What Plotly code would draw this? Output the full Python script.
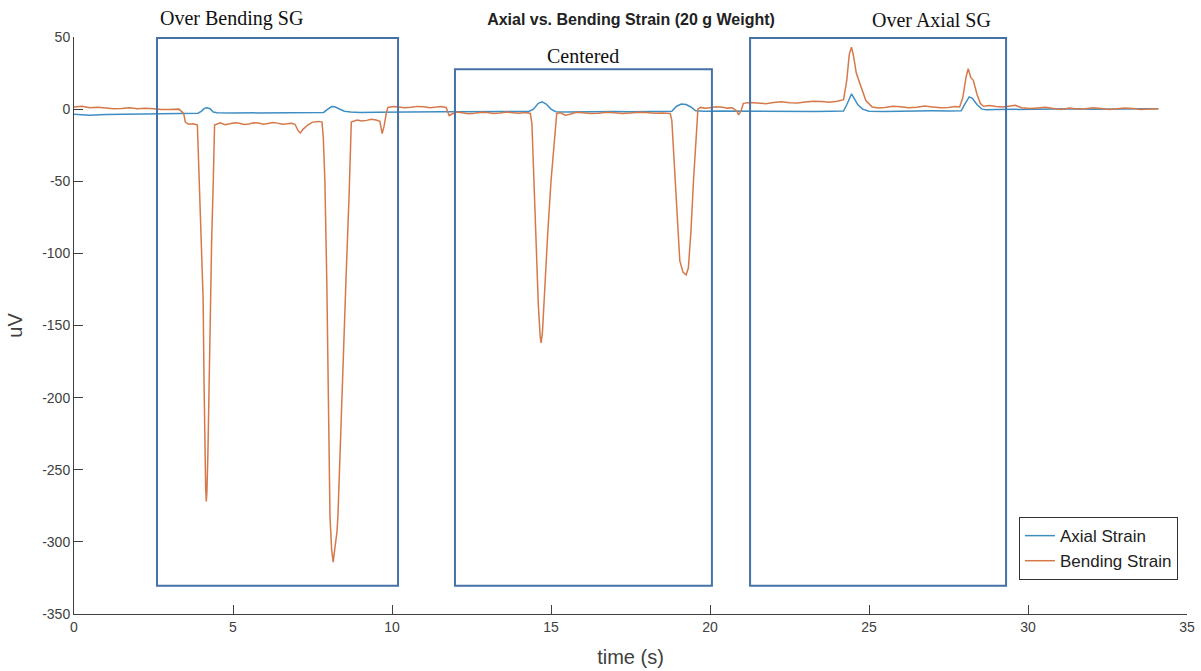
import plotly.graph_objects as go

# Bending strain (orange) — time (s) and value (uV)
bend_t = [0.0, 0.25, 0.5, 0.75, 1.0, 1.25, 1.5, 1.75, 2.0, 2.25, 2.5, 2.75, 3.0, 3.3, 3.45, 3.5, 3.6, 3.75, 3.88, 3.91, 3.95, 4.01, 4.06,
          4.09, 4.12, 4.14, 4.16, 4.18, 4.21, 4.25, 4.28, 4.33, 4.38, 4.40, 4.42, 4.6, 4.75, 4.9, 5.05, 5.2, 5.35, 5.5, 5.65, 5.8,
          5.95, 6.1, 6.25, 6.4, 6.55, 6.7, 6.85, 6.95, 7.05, 7.12, 7.2, 7.35, 7.5, 7.7, 7.8, 7.84, 7.89, 7.95, 7.99, 8.05, 8.1,
          8.15, 8.2, 8.27, 8.30, 8.36, 8.43, 8.55, 8.65, 8.68, 8.72, 8.9, 9.05, 9.2, 9.35, 9.5, 9.62, 9.69, 9.75, 9.82,
          9.87, 10.05, 10.2, 10.4, 10.6, 10.8, 11.0, 11.2, 11.4, 11.55, 11.7, 11.76, 11.8, 11.9, 12.05, 12.2, 12.4, 12.6, 12.8, 13.0,
          13.2, 13.4, 13.6, 13.8, 14.0, 14.2, 14.35,
          14.4, 14.45, 14.52, 14.6, 14.66, 14.69, 14.73, 14.8, 14.9, 15.0, 15.1, 15.18, 15.3, 15.45, 15.6, 15.8, 16.0,
          16.25, 16.5, 16.75, 17.0, 17.25, 17.5, 17.75, 18.0, 18.25, 18.5, 18.75, 18.8, 18.88, 18.97, 19.05, 19.15, 19.25, 19.32, 19.4, 19.48,
          19.55, 19.62, 19.7, 19.85, 20.0, 20.2, 20.4, 20.55, 20.7, 20.85, 20.9, 20.98, 21.05, 21.25, 21.5, 21.75, 22.0, 22.25, 22.5, 22.75, 23.0,
          23.25, 23.5, 23.75,
          24.0, 24.2, 24.3, 24.38, 24.45, 24.52, 24.6, 24.75, 24.9, 25.1, 25.3, 25.5, 25.75, 26.0, 26.25, 26.5, 26.75, 27.0, 27.25, 27.5,
          27.7, 27.85, 27.95, 28.05, 28.12, 28.2, 28.28, 28.4, 28.5, 28.6, 28.8, 29.0, 29.2, 29.4, 29.6, 29.8, 30.05, 30.3, 30.55, 30.8, 31.05, 31.3,
          31.55, 31.8, 32.05, 32.3, 32.55, 32.8, 33.05, 33.3, 33.55, 33.8, 34.1]
bend_v = [1.5, 2.0, 1.0, 1.3, 0.8, 0.3, 0.5, 0.9, 0.3, 0.6, 0.2, -0.3, -0.2, 0.0, -3, -9, -10.5, -10.2, -11, -30, -50, -90, -131,
          -190, -245, -262, -272, -265, -240, -190, -131, -90, -50, -25, -11, -9.5, -10.8, -10.2, -9.4, -9.8, -10.6, -10.3, -9.5, -9.6,
          -10.4, -10, -9.3, -9.7, -10.5, -10.2, -9.8, -10.5, -15, -16.5, -14, -11, -9, -8.5, -9, -20, -50, -120, -189, -282, -305,
          -314, -305, -293, -282, -240, -189, -120, -60, -30, -9, -7.5, -8.3, -7.8, -7.1, -7.5, -8.5, -17, -12, -3,
          1.2, 1.8, 1.5, 0.9, 1.3, 1.9, 1.6, 1.0, 1.4, 1.8, 1.2, -2, -4.5, -3.2, -2.0, -2.5, -3.2, -2.8, -2.1, -2.4,
          -3.0, -2.6, -2.0, -2.5, -2.9, -2.3, -3,
          -10, -40, -90, -135, -158, -162, -155, -125, -85, -50, -20, -3, -2.5, -4.2, -3.5, -2.2, -2.5,
          -3.1, -2.8, -2.2, -2.5, -3.0, -2.6, -2.1, -2.4, -2.9, -2.6, -3, -8, -40, -80, -105, -113, -115, -110, -85, -50,
          -20, 0, 1.2, 0.6, 1.0, 1.6, 1.3, 0.7, 1.0, -1.5, -4, -1, 4, 4.6, 4.3, 3.8, 4.6, 5.1, 4.5, 4.2, 5.0,
          5.4, 5.2, 4.8,
          5.5, 6.5, 20, 38, 43, 36, 25, 15, 6, 1.5, 0.8, 1.2, 2.0, 1.6, 1.0, 1.3, 2.1, 1.5, 0.9, 1.2,
          1.8, 1.5, 8, 22, 28, 22, 20, 10, 4, 2, 2.5, 1.8, 1.4, 2.0, 2.6, 1.0, 0.4, 0.8, 1.3, 0.5, -0.2, 0.7,
          0.1, 0.3, 0.9, 0.5, -0.3, 0.2, 0.8, 0.4, -0.2, 0.1, 0.3]

# Axial strain (blue)
axial_t = [0.0, 0.5, 1.0, 1.5, 2.0, 2.5, 3.0, 3.5, 3.9, 4.0, 4.1, 4.18, 4.28, 4.38, 4.5, 5.0, 5.5, 6.0,
           6.5, 7.0, 7.5, 7.85, 7.95, 8.1, 8.2, 8.35, 8.5, 8.7, 9.0, 9.5, 10.0, 10.5, 11.0, 11.5, 12.0,
           12.5, 13.0, 13.5, 14.0, 14.3, 14.45, 14.6, 14.72, 14.85, 15.0, 15.15, 15.5, 16.0, 16.5, 17.0,
           17.5, 18.0, 18.5, 18.8, 18.95, 19.1, 19.25, 19.4, 19.55, 19.8, 20.3, 20.8, 21.3, 21.8, 22.3,
           22.8, 23.3, 23.8, 24.2, 24.3, 24.4, 24.45, 24.52, 24.65, 24.8, 25.0, 25.5, 26.0, 26.5, 27.0,
           27.5, 27.9, 28.0, 28.15, 28.25, 28.4, 28.55, 28.7, 29.0, 29.5, 30.0, 30.5, 31.0, 31.5, 32.0,
           32.5, 33.0, 33.5, 34.1]
axial_v = [-3.5, -4.2, -3.8, -3.6, -3.4, -3.2, -3.0, -2.9, -2.8, -1.5, 0.5, 1.0, 0.3, -2.0, -2.5, -2.7, -2.6, -2.8,
           -2.6, -2.5, -2.4, -2.3, -0.5, 1.8, 1.6, 0.0, -1.5, -2.0, -2.3, -2.2, -2.0, -2.2, -2.0, -1.8, -1.9,
           -1.7, -1.8, -1.6, -1.7, -1.6, 0.0, 4.0, 5.0, 3.5, 0.0, -1.8, -2.0, -1.8, -1.9, -1.7,
           -1.8, -1.7, -1.8, -1.5, 2.0, 3.5, 3.2, 1.5, -1.2, -1.5, -1.3, -1.4, -1.2, -1.5, -1.3,
           -1.4, -1.6, -1.4, -1.3, 3.0, 9.0, 10.5, 8.0, 3.0, 0.0, -1.5, -1.6, -1.3, -1.5, -1.2,
           -1.3, -1.2, 3.0, 8.5, 7.5, 3.0, 0.0, -0.5, -0.3, -0.2, 0.0, 0.3, 0.1, 0.2, 0.0,
           0.3, 0.1, 0.2, 0.2]

# Annotation boxes
box_x0 = [2.61, 11.98, 21.26]
box_x1 = [10.19, 20.06, 29.31]
box_ytop = [49.3, 27.7, 49.3]
box_ybot = [-330.5, -330.5, -330.5]
box_labels = ["Over Bending SG", "Centered", "Over Axial SG"]
label_x = [4.94, 16.0, 26.95]
label_y = [63.0, 36.5, 62.0]

x_ticks = [0, 5, 10, 15, 20, 25, 30, 35]
y_ticks = [-350, -300, -250, -200, -150, -100, -50, 0, 50]
Y_MIN, Y_MAX = -350, 50

AX_COL = "#404040"
BLUE = "#3f8ec3"
ORANGE = "#d5794a"
BOX = "#4471a6"

fig = go.Figure()
fig.add_trace(go.Scatter(x=axial_t, y=axial_v, mode="lines", name="Axial Strain",
                         line=dict(color=BLUE, width=1.5)))
fig.add_trace(go.Scatter(x=bend_t, y=bend_v, mode="lines", name="Bending Strain",
                         line=dict(color=ORANGE, width=1.5)))

for x0, x1, yt, yb in zip(box_x0, box_x1, box_ytop, box_ybot):
    fig.add_shape(type="rect", x0=x0, x1=x1, y0=yb, y1=yt, xref="x", yref="y",
                  line=dict(color=BOX, width=2), fillcolor="rgba(0,0,0,0)")
for lx, ly, lab in zip(label_x, label_y, box_labels):
    fig.add_annotation(x=lx / 35, y=(ly - Y_MIN) / (Y_MAX - Y_MIN), xref="paper", yref="paper",
                       text=lab, showarrow=False, yanchor="middle", xanchor="center",
                       font=dict(family="Liberation Serif", size=20, color="#111111"))

fig.update_layout(
    width=1201, height=671,
    margin=dict(l=74, r=14, t=37, b=57),
    paper_bgcolor="white", plot_bgcolor="white",
    title=dict(text="<b>Axial vs. Bending Strain (20 g Weight)</b>", x=631 / 1201, xanchor="center",
               y=1 - 19 / 671, yanchor="middle",
               font=dict(family="Liberation Sans", size=16, color="#222222")),
    showlegend=True,
    legend=dict(x=0.849, y=0.168, xanchor="left", yanchor="top",
                bgcolor="white", bordercolor="#333333", borderwidth=1,
                font=dict(family="Liberation Sans", size=17, color="#222222"),
                tracegroupgap=0, itemwidth=30),
    xaxis=dict(range=[0, 35], tickvals=x_ticks, ticktext=[str(v) for v in x_ticks],
               ticks="inside", ticklen=9, tickcolor=AX_COL, automargin=False,
               showline=True, linecolor=AX_COL, linewidth=1, showgrid=False, zeroline=False,
               tickfont=dict(family="Liberation Sans", size=14, color=AX_COL),
               title=dict(text="time (s)", standoff=16,
                          font=dict(family="Liberation Sans", size=20, color=AX_COL))),
    yaxis=dict(range=[Y_MIN, Y_MAX], tickvals=y_ticks, ticktext=[str(v) for v in y_ticks],
               ticks="inside", ticklen=9, tickcolor=AX_COL, automargin=False,
               showline=True, linecolor=AX_COL, linewidth=1, showgrid=False, zeroline=False,
               tickfont=dict(family="Liberation Sans", size=14, color=AX_COL),
               title=dict(text="uV", standoff=14,
                          font=dict(family="Liberation Sans", size=20, color=AX_COL))),
)

fig.write_html("out.html", config={"displayModeBar": False},
               post_script="document.body.style.margin='0';document.body.style.overflow='hidden';")
